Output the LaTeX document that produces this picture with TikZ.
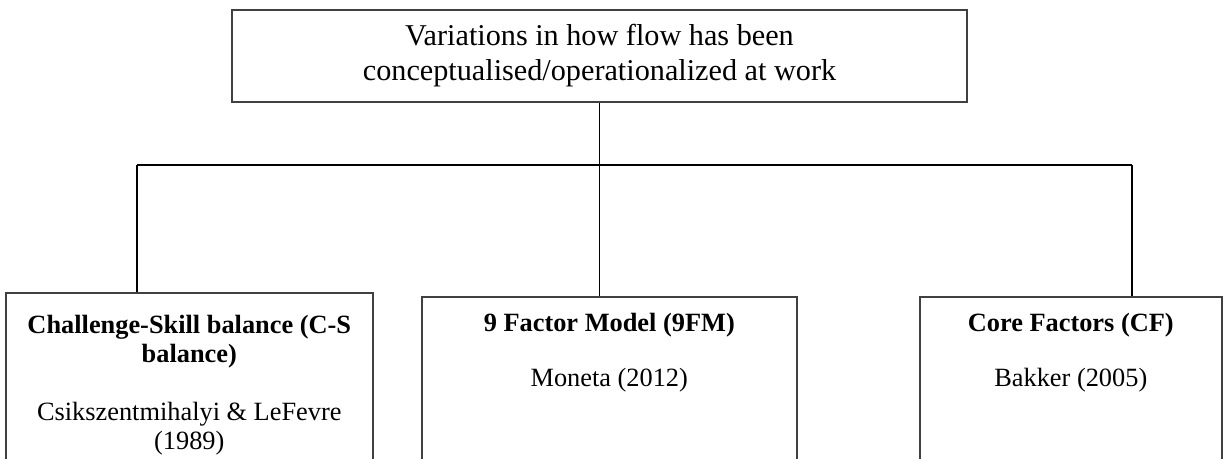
\documentclass[tikz,border=0pt]{standalone}
\usepackage{fontspec}
\setmainfont{Liberation Serif}
\usetikzlibrary{positioning,calc}

\tikzset{
  box/.style={rectangle, draw=black!75, line width=0.9pt, inner sep=0pt},
  boxtext/.style={align=center, inner sep=0pt, anchor=north, font=\fontsize{15}{16.5}\selectfont},
  link/.style={line width=0.7pt}
}

\begin{document}
\begin{tikzpicture}[x=0.02cm, y=-0.02cm]
        \def\px{0.02cm}
        \clip (0,0) rectangle (1225,459);

        % top box
        \node(title) [box, minimum width=735*\px, minimum height=92*\px, align=center, font=\fontsize{17.2}{20}\selectfont] at (599.5,56) {Variations in how flow has been\\conceptualised/operationalized at work};

        % the three boxes below, cut off by the page edge
        \node(cs) [box, anchor=north west, minimum width=367*\px, minimum height=220*\px] at (5,292) {};
        \node(nfm) [box, anchor=north west, minimum width=375*\px, minimum height=220*\px] at (421,296) {};
        \node(cf) [box, anchor=north west, minimum width=302*\px, minimum height=220*\px] at (919,296) {};

        \node(csText) [boxtext] at ($(cs.north)+(0,23)$) {\textbf{Challenge-Skill balance (C-S}\\\textbf{balance)}\\[0.58cm]Csikszentmihalyi \& LeFevre\\(1989)};
        \node(nfmText) [boxtext] at ($(nfm.north)+(0,17)$) {\textbf{9 Factor Model (9FM)}\\[0.52cm]Moneta (2012)};
        \node(cfText) [boxtext] at ($(cf.north)+(0,17)$) {\textbf{Core Factors (CF)}\\[0.52cm]Bakker (2005)};

        % connectors
        \coordinate(bus) at ($(title.south)+(0,63)$);
        \coordinate(dropL) at (137,165);
        \coordinate(dropR) at (1132,165);
        \draw[link] (title.south) -- (bus);
        \draw[link] (dropL) -- (dropR);
        \draw[link] (dropL) -- (dropL |- cs.north);
        \draw[link] (bus) -- (bus |- nfm.north);
        \draw[link] (dropR) -- (dropR |- cf.north);
\end{tikzpicture}
\end{document}
